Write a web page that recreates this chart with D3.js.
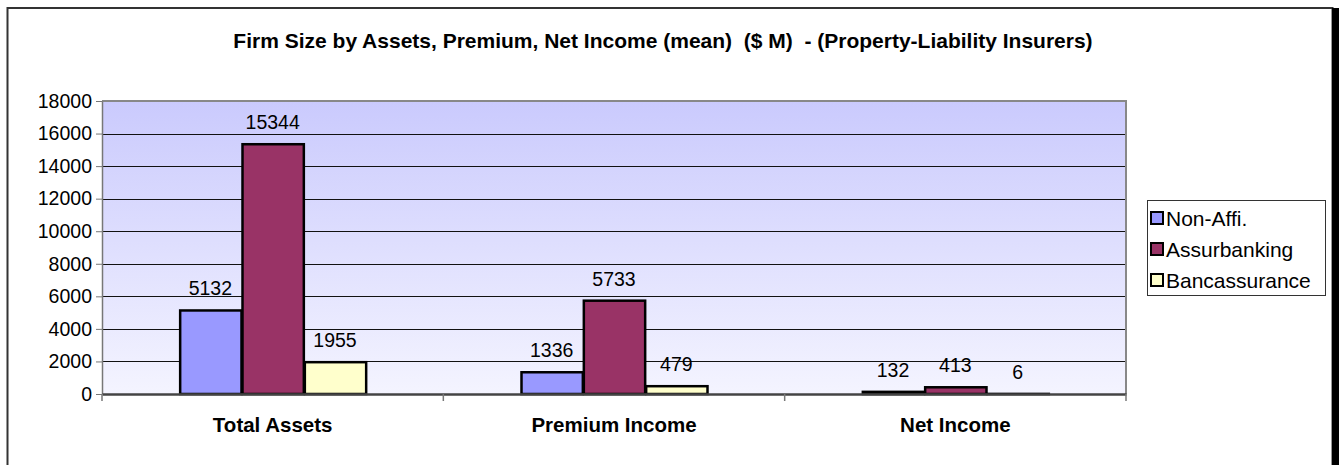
<!DOCTYPE html>
<html><head><meta charset="utf-8">
<script src="https://cdn.jsdelivr.net/npm/d3@7/dist/d3.min.js"></script>
<style>body{margin:0;background:#fff;}svg{display:block;font-family:"Liberation Sans",Arial,sans-serif;}</style>
</head><body>
<svg id="c" width="1339" height="465"></svg>
<script>
const categories = ["Total Assets", "Premium Income", "Net Income"];
const seriesNames = ["Non-Affi.", "Assurbanking", "Bancassurance"];
const nonAffi = [5132, 1336, 132];
const assurbanking = [15344, 5733, 413];
const bancassurance = [1955, 479, 6];
const yTicks = [0, 2000, 4000, 6000, 8000, 10000, 12000, 14000, 16000, 18000];
const colors = ["#9999FF", "#993366", "#FFFFCC"];
const title = "Firm Size by Assets, Premium, Net Income (mean)  ($ M)  - (Property-Liability Insurers)";

const series = [nonAffi, assurbanking, bancassurance];
const svg = d3.select("#c");

// outer frame
svg.append("rect").attr("x", 7.5).attr("y", 8).attr("width", 1325).attr("height", 470)
  .attr("fill", "#fff").attr("stroke", "#333").attr("stroke-width", 2);
svg.append("rect").attr("x", 1332).attr("y", 8).attr("width", 7).attr("height", 465).attr("fill", "#000");

const L = 102, R = 1126, T = 101, B = 394;
const x0 = d3.scaleBand().domain(categories).range([L, R]).paddingInner(0).paddingOuter(0);
const groupW = 187;
const x1 = d3.scaleBand().domain(seriesNames).range([0, groupW]).padding(0);
const y = d3.scaleLinear().domain([0, 18000]).range([B, T]);

// gradient
const defs = svg.append("defs");
const g = defs.append("linearGradient").attr("id", "bg").attr("x1", 0).attr("y1", 0).attr("x2", 0).attr("y2", 1);
g.append("stop").attr("offset", "0%").attr("stop-color", "#CACAFD");
g.append("stop").attr("offset", "100%").attr("stop-color", "#F4F4FF");
svg.append("rect").attr("x", L).attr("y", T).attr("width", R - L).attr("height", B - T).attr("fill", "url(#bg)");

// gridlines
svg.append("g").selectAll("line").data(yTicks.filter(d => d > 0)).join("line")
  .attr("x1", L).attr("x2", R).attr("y1", d => Math.round(y(d)) + 0.5).attr("y2", d => Math.round(y(d)) + 0.5)
  .attr("stroke", "#111").attr("stroke-width", 1);

// plot border top/right
svg.append("path").attr("d", `M${L},${T}H${R}V${B}`).attr("fill", "none").attr("stroke", "#888").attr("stroke-width", 2);

// y axis
const yAxis = d3.axisLeft(y).tickValues(yTicks).tickFormat(d3.format("d")).tickSize(6).tickSizeOuter(0).tickPadding(4);
const ya = svg.append("g").attr("transform", `translate(${L},0)`).call(yAxis);
ya.select(".domain").attr("stroke", "#777").attr("stroke-width", 1.5);
ya.selectAll(".tick line").attr("stroke", "#777");
ya.selectAll(".tick text").attr("font-size", 19.5).attr("fill", "#000").attr("font-family", "Liberation Sans, Arial, sans-serif");

// bars
const groups = svg.append("g").selectAll("g").data(categories).join("g")
  .attr("transform", c => `translate(${x0(c) + (x0.bandwidth() - groupW) / 2},0)`);
groups.selectAll("rect").data((c, i) => seriesNames.map((s, j) => ({ s, j, v: series[j][i] }))).join("rect")
  .attr("x", d => x1(d.s) + 1).attr("width", x1.bandwidth() - 1)
  .attr("y", d => y(d.v)).attr("height", d => B - y(d.v))
  .attr("fill", d => colors[d.j]).attr("stroke", "#000").attr("stroke-width", 2.5);
groups.selectAll("text").data((c, i) => seriesNames.map((s, j) => ({ s, j, v: series[j][i] }))).join("text")
  .attr("x", d => x1(d.s) + x1.bandwidth() / 2).attr("y", d => y(d.v) - 15)
  .attr("text-anchor", "middle").attr("font-size", 19.5).text(d => d.v);

// x axis
const xAxis = d3.axisBottom(x0).tickSize(0).tickPadding(0);
const xa = svg.append("g").attr("transform", `translate(0,${B})`).call(xAxis);
xa.select(".domain").attr("stroke", "#444").attr("stroke-width", 2.5);
xa.selectAll(".tick text").attr("font-size", 20.5).attr("font-weight", "bold").attr("fill", "#000")
  .attr("dy", 0).attr("y", 38).attr("font-family", "Liberation Sans, Arial, sans-serif");
// category separators
svg.append("g").selectAll("line").data(categories.map(c => x0(c)).concat([R])).join("line")
  .attr("x1", d => d).attr("x2", d => d).attr("y1", B).attr("y2", B + 7).attr("stroke", "#777").attr("stroke-width", 1.5);

// title
svg.append("text").attr("x", 663).attr("y", 48).attr("text-anchor", "middle")
  .attr("font-size", 21).attr("font-weight", "bold").style("white-space", "pre").text(title);

// legend
const lg = svg.append("g");
lg.append("rect").attr("x", 1147.5).attr("y", 200.5).attr("width", 178).attr("height", 95)
  .attr("fill", "#fff").attr("stroke", "#333").attr("stroke-width", 1);
const items = lg.selectAll("g").data(seriesNames).join("g")
  .attr("transform", (d, i) => `translate(1151,${218 + i * 31})`);
items.append("rect").attr("x", 0).attr("y", -6).attr("width", 12).attr("height", 12)
  .attr("fill", (d, i) => colors[i]).attr("stroke", "#000").attr("stroke-width", 2);
items.append("text").attr("x", 15).attr("y", 7.5).attr("font-size", 21).text(d => d);
</script>
</body></html>
